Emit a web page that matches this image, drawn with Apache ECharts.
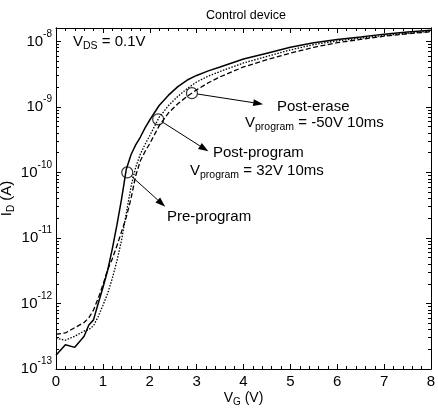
<!DOCTYPE html>
<html><head><meta charset="utf-8">
<script src="https://cdn.jsdelivr.net/npm/echarts@6/dist/echarts.min.js"></script>
<style>html,body{margin:0;padding:0;background:#fff}#c{width:438px;height:410px}</style>
</head><body><div id="c"></div>
<script>
// Gate voltage grid (V)
const vg = [0, 0.2, 0.4, 0.6, 0.7, 0.8, 0.9, 1.0, 1.1, 1.2, 1.3, 1.4, 1.5, 1.6, 1.7, 1.8, 1.9, 2.0, 2.2, 2.4, 2.6, 2.8, 3.0, 3.25, 3.5, 4.0, 4.5, 5.0, 5.5, 6.0, 6.5, 7.0, 7.5, 8.0];
// Drain current (A), solid line
const preProgram = [1.62e-13, 2.34e-13, 2.14e-13, 3.16e-13, 4.68e-13, 5.62e-13, 1.0e-12, 1.74e-12, 3.16e-12, 6.76e-12, 1.58e-11, 3.98e-11, 1.12e-10, 1.86e-10, 2.63e-10, 3.47e-10, 4.79e-10, 6.31e-10, 1.05e-9, 1.51e-9, 2.04e-9, 2.57e-9, 3.02e-9, 3.55e-9, 4.07e-9, 5.37e-9, 6.61e-9, 8.13e-9, 9.55e-9, 1.07e-8, 1.17e-8, 1.29e-8, 1.39e-8, 1.48e-8];
// Drain current (A), dotted line
const postProgram = [2.95e-13, 2.75e-13, 3.16e-13, 3.80e-13, 3.98e-13, 4.57e-13, 6.31e-13, 9.33e-13, 1.41e-12, 2.40e-12, 4.47e-12, 9.33e-12, 2.40e-11, 6.03e-11, 1.20e-10, 1.91e-10, 2.69e-10, 3.63e-10, 6.92e-10, 1.05e-9, 1.45e-9, 1.91e-9, 2.40e-9, 2.95e-9, 3.47e-9, 4.68e-9, 5.89e-9, 7.41e-9, 8.91e-9, 1.02e-8, 1.12e-8, 1.23e-8, 1.33e-8, 1.43e-8];
// Drain current (A), dashed line
const postErase = [3.39e-13, 3.55e-13, 4.27e-13, 5.13e-13, 6.03e-13, 7.94e-13, 1.20e-12, 1.91e-12, 3.24e-12, 4.79e-12, 7.59e-12, 1.26e-11, 2.09e-11, 3.98e-11, 8.91e-11, 1.51e-10, 2.09e-10, 2.75e-10, 5.13e-10, 8.13e-10, 1.12e-9, 1.45e-9, 1.82e-9, 2.34e-9, 2.88e-9, 4.07e-9, 5.25e-9, 6.61e-9, 8.13e-9, 9.55e-9, 1.07e-8, 1.20e-8, 1.31e-8, 1.40e-8];
// Y axis major tick values (A)
const yMajorTicks = [1e-13, 1e-12, 1e-11, 1e-10, 1e-9, 1e-8];
// Y axis minor tick multipliers
const yMinorMult = [2, 3, 4, 5, 6, 7, 8, 9];
// Annotation circles (V, A) and arrow tips (V, A)
const markerV = [1.52, 2.18, 2.90];
const markerI = [1.0e-10, 6.46e-10, 1.62e-9];
const tipV = [2.33, 3.25, 4.42];
const tipI = [3.0e-11, 2.1e-10, 1.1e-9];

const FONT = '"Liberation Sans", Arial, Helvetica, sans-serif';
const Y_MIN = 1e-13, Y_MAX = 1.6e-8;
const yMinorTicks = [];
yMajorTicks.forEach(d => yMinorMult.forEach(m => { if (m * d <= Y_MAX) yMinorTicks.push(m * d); }));
const zip = (xs, ys) => xs.map((x, i) => [x, ys[i]]);

const chart = echarts.init(document.getElementById('c'), null, {renderer: 'canvas'});
const axisLine = {show: true, lineStyle: {color: '#000', width: 1}};
const xBase = {
  type: 'value', min: 0, max: 8, interval: 1,
  axisLine: axisLine, splitLine: {show: false},
  axisTick: {show: true, inside: true, length: 5, lineStyle: {color: '#000'}},
  minorTick: {show: true, splitNumber: 5, length: 3, lineStyle: {color: '#000'}},
  minorSplitLine: {show: false}
};
function yAxisDef(pos, major, withLabel) {
  return {
    type: 'log', logBase: 10, min: Y_MIN, max: Y_MAX, position: pos,
    axisLine: axisLine, splitLine: {show: false}, minorTick: {show: false},
    axisTick: {show: true, inside: true, length: major ? 5 : 3,
      customValues: major ? yMajorTicks : yMinorTicks, lineStyle: {color: '#000'}},
    axisLabel: withLabel ? {
      show: true, customValues: yMajorTicks, margin: 4,
      formatter: v => '{b|10}{e|' + Math.round(Math.log10(v)) + '}',
      rich: {
        b: {fontSize: 15, fontFamily: FONT, color: '#000'},
        e: {fontSize: 10, fontFamily: FONT, color: '#000', padding: [0, 0, 15, 0]}
      }
    } : {show: false},
    name: withLabel ? '{a|I}{s|D}{a| (A)}' : '',
    nameLocation: 'middle', nameGap: 40, nameRotate: 90, nameMoveOverlap: false,
    nameTextStyle: {
      rich: {
        a: {fontSize: 15, fontFamily: FONT, color: '#000'},
        s: {fontSize: 10, fontFamily: FONT, color: '#000', padding: [8, 0, 0, 0]}
      }
    }
  };
}

const option = {
  animation: false,
  backgroundColor: '#fff',
  title: {
    text: 'Control device', left: 241, top: 4, textAlign: 'center',
    textStyle: {fontSize: 12.5, fontWeight: 'normal', fontFamily: FONT, color: '#000'}
  },
  grid: {left: 56, right: 7, top: 28, bottom: 41, containLabel: false, outerBoundsMode: 'none'},
  xAxis: [
    Object.assign({}, xBase, {
      position: 'bottom',
      axisLabel: {show: true, fontSize: 15, fontFamily: FONT, color: '#000', margin: 5},
      name: '{a|V}{s|G}{a| (V)}', nameLocation: 'middle', nameGap: 20, nameMoveOverlap: false,
      nameTextStyle: {
        rich: {
          a: {fontSize: 14, fontFamily: FONT, color: '#000'},
          s: {fontSize: 10, fontFamily: FONT, color: '#000', padding: [8, 0, 0, 0]}
        }
      }
    }),
    Object.assign({}, xBase, {position: 'top', axisLabel: {show: false}})
  ],
  yAxis: [
    yAxisDef('left', true, true),
    yAxisDef('left', false, false),
    yAxisDef('right', true, false),
    yAxisDef('right', false, false)
  ],
  series: [
    {type: 'line', name: 'Pre-program', data: zip(vg, preProgram), showSymbol: false,
      lineStyle: {color: '#000', width: 1.5, type: 'solid'}},
    {type: 'line', name: 'Post-program', data: zip(vg, postProgram), showSymbol: false,
      lineStyle: {color: '#000', width: 1.3, type: [1.5, 1.5]}},
    {type: 'line', name: 'Post-erase', data: zip(vg, postErase), showSymbol: false,
      lineStyle: {color: '#000', width: 1.3, type: [5, 2.5]}},
    {type: 'scatter', name: 'markers', data: zip(markerV, markerI), symbol: 'circle', symbolSize: 11,
      itemStyle: {color: 'rgba(0,0,0,0)', borderColor: '#000', borderWidth: 1.2}, z: 5}
  ]
};
chart.setOption(option);

// Annotation arrows & texts
const gfx = [];
const R = 5.5;
for (let k = 0; k < markerV.length; k++) {
  const c = chart.convertToPixel({xAxisIndex: 0, yAxisIndex: 0}, [markerV[k], markerI[k]]);
  const t = chart.convertToPixel({xAxisIndex: 0, yAxisIndex: 0}, [tipV[k], tipI[k]]);
  const dx = t[0] - c[0], dy = t[1] - c[1];
  const L = Math.hypot(dx, dy), ux = dx / L, uy = dy / L;
  const hl = 10, hw = 3.5;
  const bx = t[0] - ux * hl, by = t[1] - uy * hl;
  gfx.push({type: 'line', shape: {x1: c[0] + ux * R, y1: c[1] + uy * R, x2: bx, y2: by},
    style: {stroke: '#000', lineWidth: 1}, z: 10});
  gfx.push({type: 'polygon', shape: {points: [[t[0], t[1]], [bx - uy * hw, by + ux * hw], [bx + uy * hw, by - ux * hw]]},
    style: {fill: '#000'}, z: 10});
}
const richA = {
  a: {fontSize: 15, fontFamily: FONT, fill: '#000'},
  s: {fontSize: 10.5, fontFamily: FONT, fill: '#000', padding: [9, 0, 0, 0]}
};
function txt(x, y, text) {
  return {type: 'text', left: x, top: y, z: 10,
    style: {text: text, rich: richA, fontSize: 15, fontFamily: FONT, fill: '#000'}};
}
gfx.push(txt(73, 34, '{a|V}{s|DS}{a| = 0.1V}'));
gfx.push(txt(277, 99, '{a|Post-erase}'));
gfx.push(txt(245, 115, '{a|V}{s|program}{a| = -50V 10ms}'));
gfx.push(txt(213, 145, '{a|Post-program}'));
gfx.push(txt(190, 163, '{a|V}{s|program}{a| = 32V 10ms}'));
gfx.push(txt(167, 209, '{a|Pre-program}'));
chart.setOption({graphic: gfx});
</script>
</body></html>
